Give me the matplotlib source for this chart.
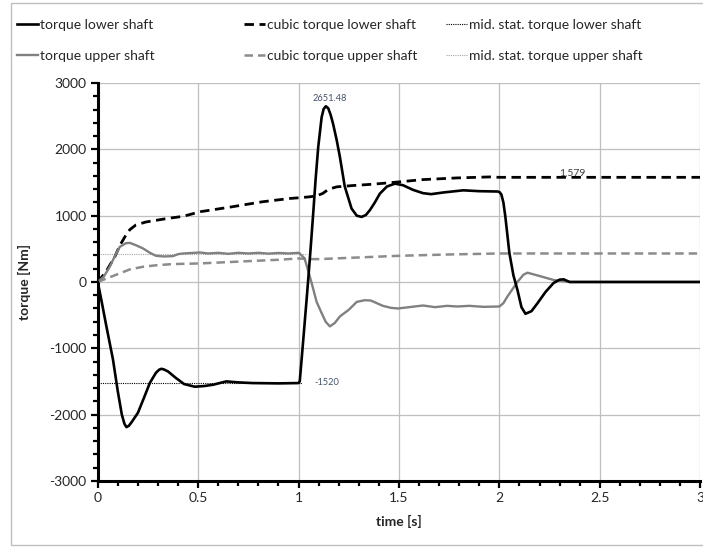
import matplotlib
matplotlib.use("Agg")
import matplotlib.pyplot as plt
import matplotlib.patches as patches
from matplotlib.ticker import MultipleLocator

plt.rcParams['font.family'] = ['Lato', 'DejaVu Sans']
plt.rcParams['axes.unicode_minus'] = False

# torque lower shaft (t [s], torque [Nm])
lower_t = [0, 0.018, 0.04, 0.076, 0.10, 0.12, 0.133, 0.143, 0.155, 0.17, 0.2, 0.23, 0.26,
           0.29, 0.305, 0.317, 0.33, 0.35, 0.39, 0.43, 0.483, 0.53, 0.575, 0.64, 0.70, 0.77,
           0.9, 1.0, 1.006, 1.02, 1.04, 1.048, 1.06, 1.073, 1.085, 1.098, 1.115, 1.125,
           1.136, 1.148, 1.16, 1.172, 1.19, 1.206, 1.23, 1.264, 1.29, 1.314, 1.335, 1.355,
           1.38, 1.405, 1.44, 1.48, 1.52, 1.57, 1.62, 1.66, 1.72, 1.82, 1.9, 1.99, 2.0,
           2.01, 2.02, 2.03, 2.05, 2.07, 2.09, 2.11, 2.13, 2.16, 2.19, 2.23, 2.27, 2.30,
           2.32, 2.35, 3.0]
lower_v = [0, -270, -620, -1170, -1650, -2000, -2140, -2190, -2170, -2110, -1975, -1750, -1520,
           -1370, -1325, -1310, -1320, -1350, -1450, -1540, -1580, -1570, -1550, -1500, -1515, -1525,
           -1530, -1525, -1500, -1000, -270, 30, 500, 1033, 1550, 2035, 2486, 2610,
           2651, 2620, 2520, 2386, 2140, 1885, 1443, 1108, 1000, 982, 1010, 1083,
           1200, 1333, 1440, 1484, 1460, 1390, 1340, 1325, 1350, 1383, 1370, 1365, 1358,
           1320, 1200, 980, 435, 100, -120, -380, -480, -440, -320, -150, -15, 35,
           40, 0, 0]

# torque upper shaft
upper_t = [0, 0.03, 0.06, 0.09, 0.11, 0.14, 0.16, 0.19, 0.226, 0.26, 0.29, 0.33, 0.375,
           0.40, 0.425, 0.51, 0.55, 0.6, 0.65, 0.7, 0.75, 0.8, 0.85, 0.9, 0.95, 1.0,
           1.006, 1.03, 1.05, 1.07, 1.09, 1.115, 1.135, 1.156, 1.18, 1.206, 1.25, 1.29,
           1.33, 1.36, 1.42, 1.46, 1.495, 1.55, 1.62, 1.68, 1.74, 1.79, 1.85, 1.92, 2.0,
           2.02, 2.04, 2.09, 2.12, 2.14, 2.2, 2.27, 2.35, 3.0]
upper_v = [0, 80, 230, 420, 530, 585, 590, 555, 505, 440, 395, 385, 390,
           420, 430, 445, 430, 440, 425, 440, 430, 440, 428, 438, 430, 440,
           430, 355, 150, -70, -300, -470, -600, -670, -620, -520, -420, -300,
           -275, -280, -360, -390, -400, -380, -355, -380, -360, -370, -360, -375, -370,
           -320, -220, 0, 110, 140, 90, 30, 0, 0]

# cubic torque lower shaft
cub_lower_t = [0, 0.04, 0.085, 0.11, 0.135, 0.16, 0.19, 0.24, 0.29, 0.35, 0.425, 0.51, 0.66,
               0.82, 0.957, 1.0, 1.056, 1.09, 1.12, 1.15, 1.19, 1.27, 1.37, 1.5, 1.62, 1.79,
               1.95, 2.0, 3.0]
cub_lower_v = [0, 150, 380, 550, 680, 790, 860, 905, 930, 960, 990, 1060, 1130,
               1210, 1260, 1270, 1285, 1300, 1335, 1400, 1435, 1455, 1475, 1510, 1545, 1570,
               1585, 1579, 1579]

# cubic torque upper shaft
cub_upper_t = [0, 0.05, 0.11, 0.16, 0.226, 0.30, 0.375, 0.51, 0.65, 0.79, 0.9, 1.0, 1.05,
               1.1, 1.3, 1.5, 1.75, 2.0, 3.0]
cub_upper_v = [0, 60, 130, 190, 230, 255, 270, 280, 300, 320, 335, 355, 345,
               345, 370, 395, 415, 430, 430]

# mid. stat. torque
stat_lower = -1520
stat_lower_t = [0, 1.015]
stat_upper = 425
stat_upper_t = [0, 1.04]

peak_label = "2651.48"
stat_label = "-1520"
end_label = "1,579"

x_ticks = [0, 0.5, 1, 1.5, 2, 2.5, 3]
x_tick_labels = ["0", "0.5", "1", "1.5", "2", "2.5", "3"]
y_ticks = [-3000, -2000, -1000, 0, 1000, 2000, 3000]

fig = plt.figure(figsize=(7.03, 5.47), dpi=100)
ax = fig.add_axes([0.139, 0.121, 0.857, 0.727])

gray = "#808080"
l1, = ax.plot(lower_t, lower_v, color="black", lw=1.9, label="torque lower shaft", zorder=5)
l2, = ax.plot(upper_t, upper_v, color=gray, lw=1.7, label="torque upper shaft", zorder=4)
l3, = ax.plot(cub_lower_t, cub_lower_v, color="black", lw=2.0, dashes=(3.4, 2.0),
              label="cubic torque lower shaft", zorder=3)
l4, = ax.plot(cub_upper_t, cub_upper_v, color="#8c8c8c", lw=1.8, dashes=(3.4, 2.0),
              label="cubic torque upper shaft", zorder=3)
l5, = ax.plot(stat_lower_t, [stat_lower] * 2, color="black", lw=0.8, ls=(0, (1, 1)),
              label="mid. stat. torque lower shaft", zorder=2)
l6, = ax.plot(stat_upper_t, [stat_upper] * 2, color="#a6a6a6", lw=0.8, ls=(0, (1, 1)),
              label="mid. stat. torque upper shaft", zorder=2)

ax.text(1.156, 2772, peak_label, fontsize=6.7, color="#44546A", ha="center", va="center")
ax.text(1.077, stat_lower, stat_label, fontsize=6.7, color="#44546A", ha="left", va="center")
ax.text(2.30, 1640, end_label, fontsize=7.5, color="#404040", ha="left", va="center")

ax.set_xlim(0, 3)
ax.set_ylim(-3000, 3000)
ax.set_xticks(x_ticks)
ax.set_xticklabels(x_tick_labels)
ax.set_yticks(y_ticks)
ax.xaxis.set_minor_locator(MultipleLocator(0.1))
ax.yaxis.set_minor_locator(MultipleLocator(200))
ax.grid(True, which="major", color="#bfbfbf", lw=0.9)
ax.set_axisbelow(True)

for s in ["top", "right"]:
    ax.spines[s].set_visible(False)
for s in ["left", "bottom"]:
    ax.spines[s].set_linewidth(2.2)
    ax.spines[s].set_color("black")
ax.tick_params(which="major", direction="out", length=5, width=1.6, color="black",
               labelsize=10, labelcolor="#262626", pad=3)
ax.tick_params(which="minor", direction="out", length=3.5, width=1.6, color="black")

ax.set_xlabel("time [s]", fontsize=10, fontweight="bold", color="#262626", labelpad=8)
ax.set_ylabel("torque [Nm]", fontsize=10, fontweight="bold", color="#262626")
ax.yaxis.set_label_coords(-0.11, 0.5)

# legend in three columns
cols = [([l1, l2], 0.024), ([l3, l4], 0.347), ([l5, l6], 0.635)]
for handles, x in cols:
    fig.legend(handles=handles, loc="upper left", bbox_to_anchor=(x, 0.965),
               frameon=False, fontsize=10, handlelength=1.5, handletextpad=0.15,
               borderpad=0, borderaxespad=0, labelspacing=1.37, labelcolor="#262626")

# chart area border
fig.add_artist(patches.Rectangle((0.0156, 0.004), 1.0, 0.99, transform=fig.transFigure,
                                 fill=False, edgecolor="#bfbfbf", lw=1))

fig.savefig("out.png", dpi=100)
